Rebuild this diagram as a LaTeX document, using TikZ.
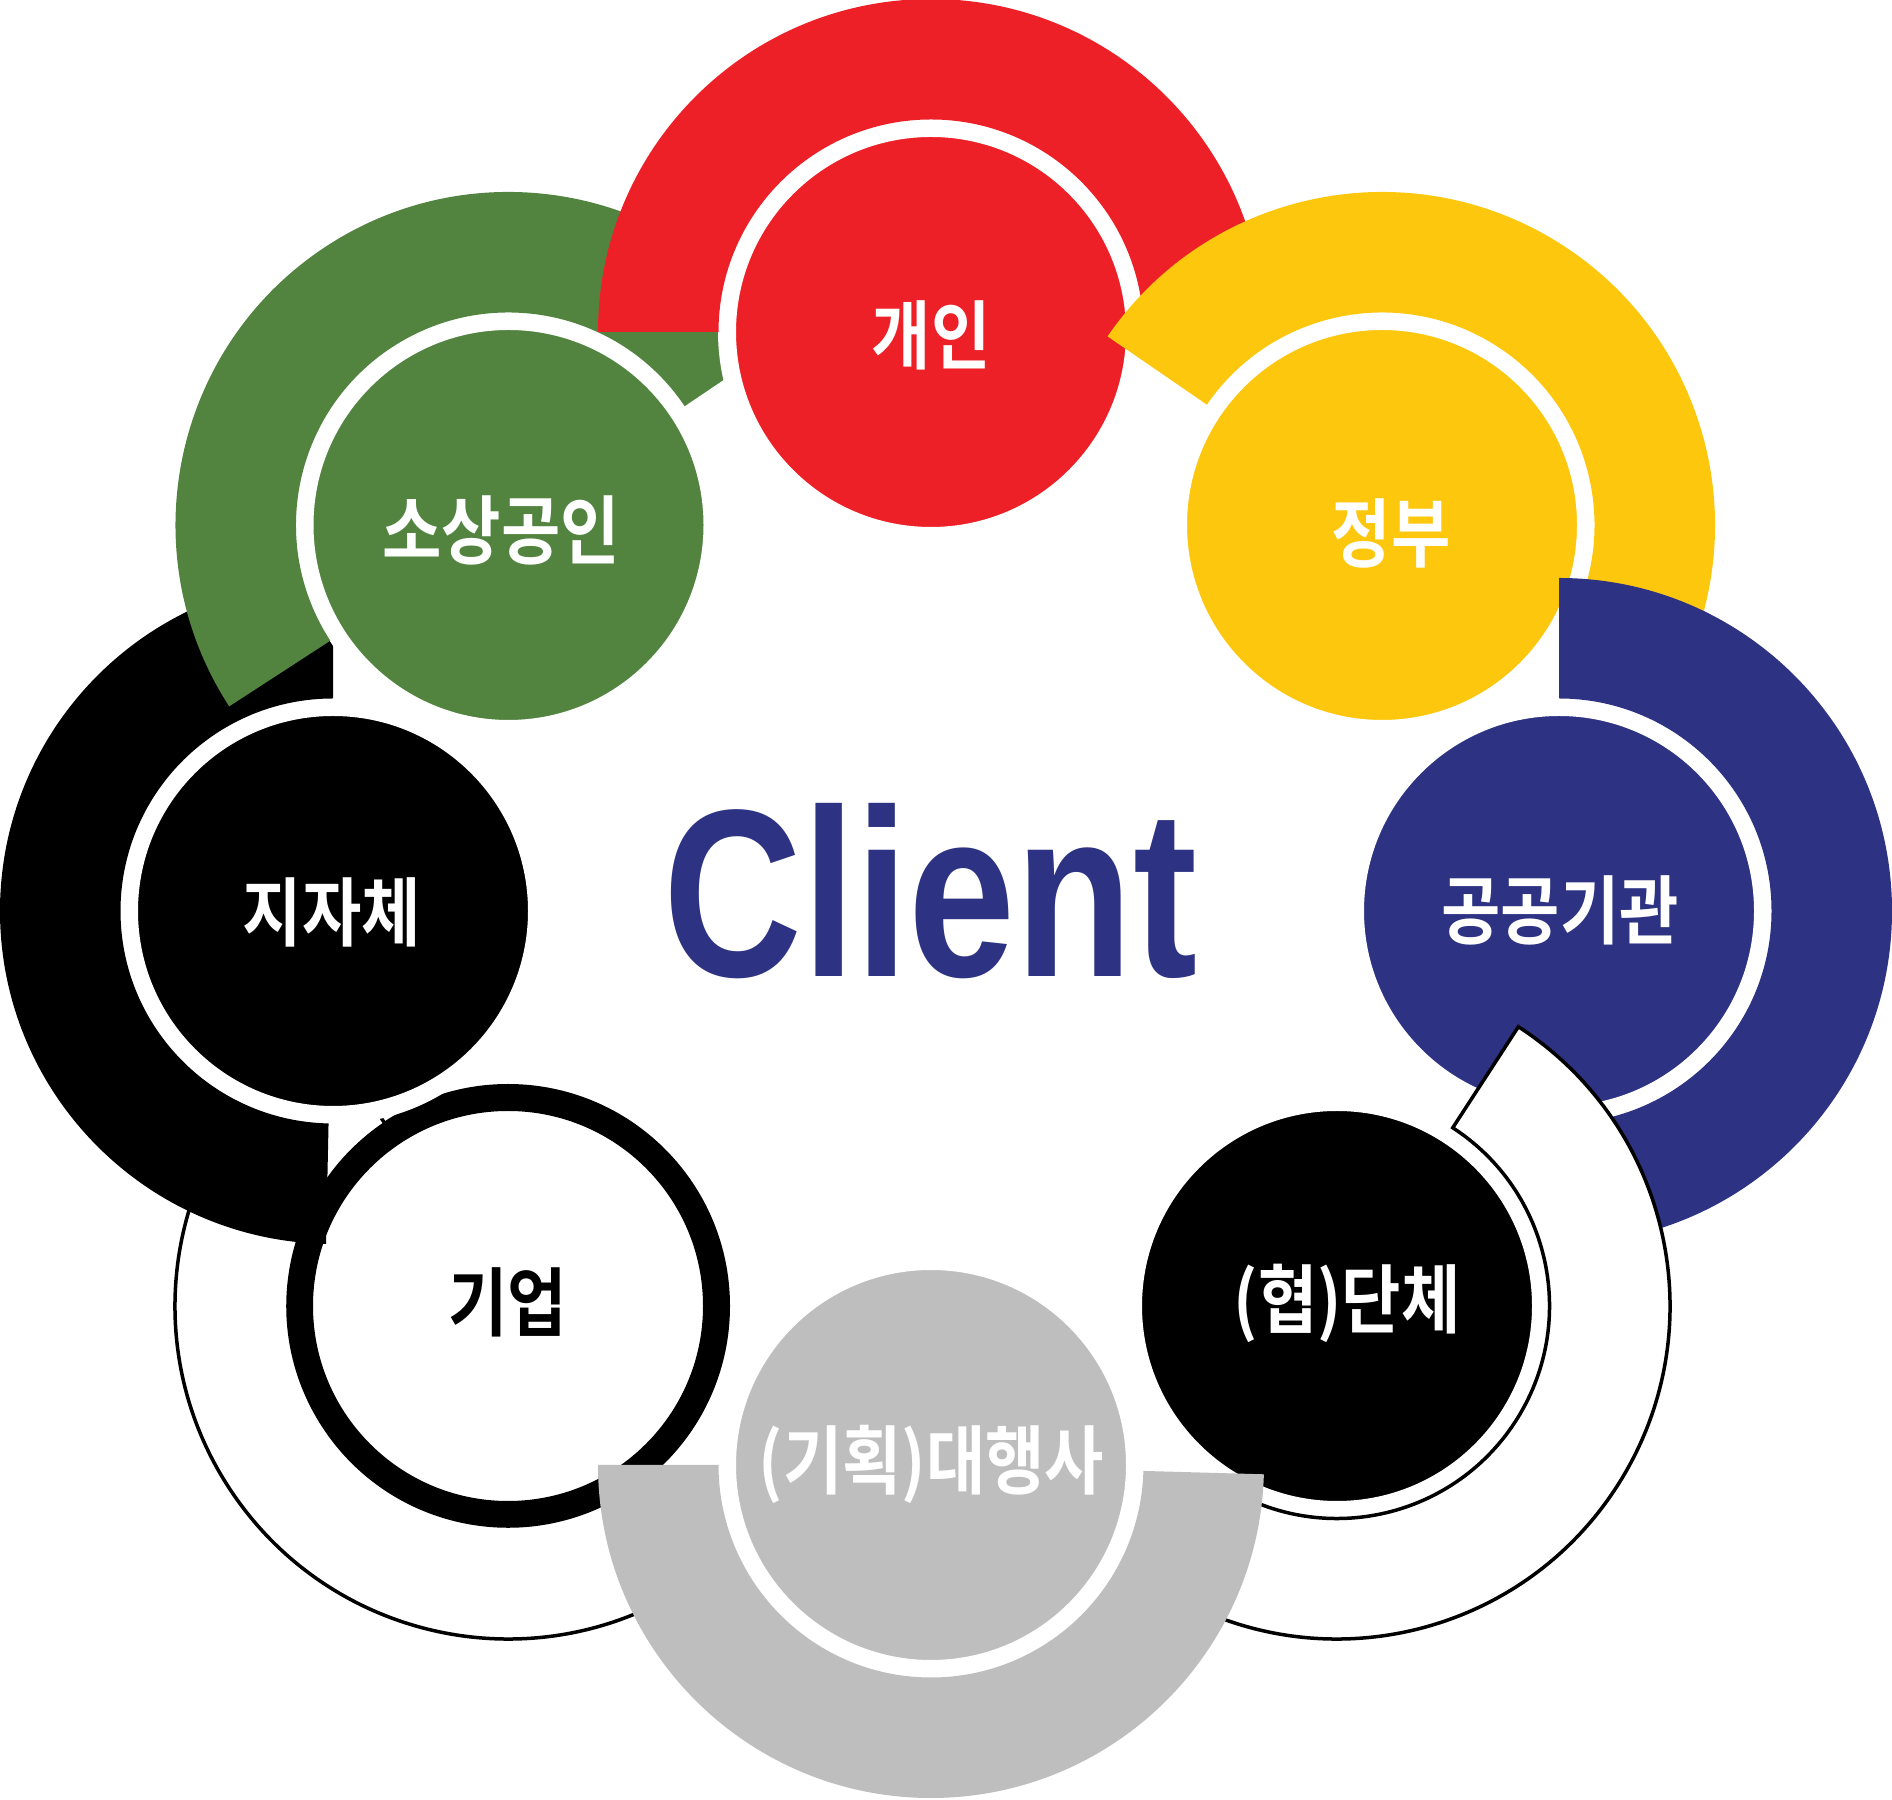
\documentclass[tikz,border=0pt]{standalone}
\usepackage{fontspec}
\newfontfamily\kr{Noto Sans CJK KR Bold}
\newfontfamily\latinbold{Liberation Sans}
\usetikzlibrary{calc}
\definecolor{gaeinred}{HTML}{ED2027}
\definecolor{jeongbuyellow}{HTML}{FDC70E}
\definecolor{gonggongnavy}{HTML}{2D3282}
\definecolor{sosanggreen}{HTML}{528440}
\definecolor{daehaenggray}{HTML}{BEBEBE}
\newcommand\narrow[2][0.86]{\scalebox{#1}[1]{#2}}

\begin{document}
\begin{tikzpicture}
    [
      x=1pt, y=1pt,
      disc/.style={circle, inner sep=0pt, fill=#1},
      name text/.style={font=\kr\fontsize{75}{75}\selectfont, text=#1, inner sep=0pt}
    ]
    \useasboundingbox (0,0) rectangle (1892,1799);
    % discs and rings, lowest first
    \foreach \n/\x/\y/\a/\b/\col/\edge/\dcol/\rcol/\rw/\ri in {
        giup/508/493/124/304/white/black/white/black/27pt/220,
        jijache/333/888/90/268.8/black/none/black/white/18pt/212.5,
        sosang/508.5/1274/34/213/sosanggreen/none/sosanggreen/white/18pt/212.5,
        gaein/931/1467/0/180/gaeinred/none/gaeinred/white/18pt/212.5,
        jeongbu/1382/1274/-32/145.5/jeongbuyellow/none/jeongbuyellow/white/18pt/212.5,
        gonggong/1559/888/-90/90/gonggongnavy/none/gonggongnavy/white/18pt/212.5,
        hyeop/1337/493/-123/57/white/black/black/white/18pt/212.5,
        daehaeng/931/334/180/358.4/daehaenggray/none/daehaenggray/white/18pt/212.5}
    {
      \node (\n) [disc=\dcol, draw=\rcol, line width=\rw, minimum size=390pt+\rw] at (\x,\y) {};
      \path [fill=\col, draw=\edge, line width=3.5pt]
        ($(\x,\y)+(\a:333pt)$) arc [start angle=\a, end angle=\b, radius=333pt]
        -- ($(\x,\y)+(\b:\ri pt)$) arc [start angle=\b, end angle=\a, radius=\ri pt] -- cycle;
    }
    % names
    \node (giup-t) [name text=black] at (507.5,497) {\narrow{기업}};
    \node (jijache-t) [name text=white] at (332,887) {\narrow{지자체}};
    \node (sosang-t) [name text=white] at (501,1269) {\narrow{소상공인}};
    \node (gaein-t) [name text=white] at (931,1464) {\narrow{개인}};
    \node (jeongbu-t) [name text=white] at (1391,1265) {\narrow{정부}};
    \node (gonggong-t) [name text=white] at (1560,889) {\narrow{공공기관}};
    \node (hyeop-t) [name text=white] at (1347,496) {\narrow{(협)단체}};
    \node (daehaeng-t) [name text=white] at (931.5,335) {\narrow{(기획)대행사}};
    \node (client) [font=\latinbold\bfseries\fontsize{239}{239}\selectfont, text=gonggongnavy,
      anchor=base, inner sep=0pt] at (930.3,822) {\narrow[0.805]{Client}};
\end{tikzpicture}
\end{document}
